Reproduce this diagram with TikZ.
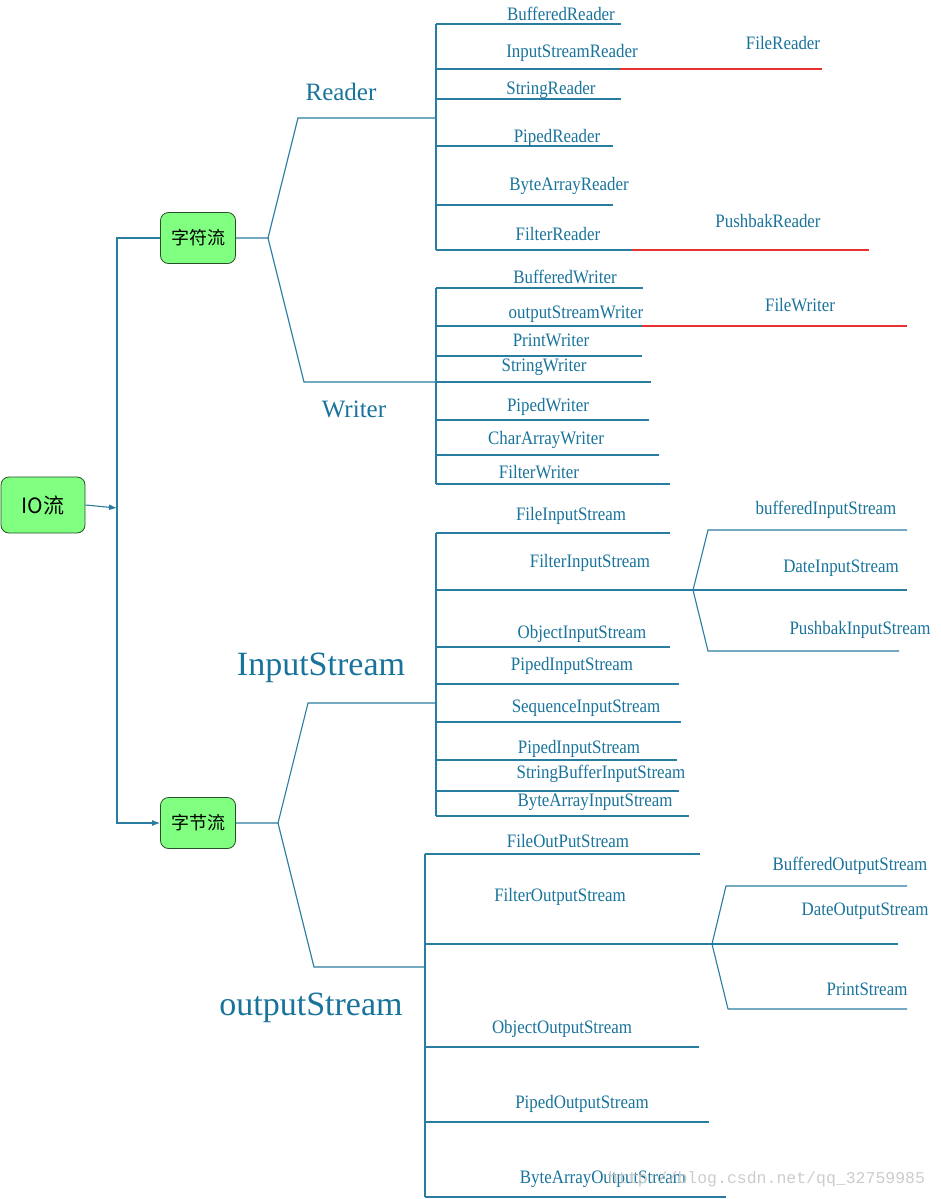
\documentclass[tikz,border=0pt]{standalone}
\usepackage{fontspec}
\usepackage{xcolor}
\usepackage{tikz}
\usetikzlibrary{arrows.meta,positioning}
\setmainfont{Liberation Serif}
\newfontfamily\lblfont[FakeStretch=0.89]{Liberation Serif}
\newfontfamily\cjk{Noto Sans CJK SC}
\newfontfamily\wmfont{Liberation Mono}
\definecolor{lineblue}{RGB}{40,125,160}
\definecolor{textblue}{RGB}{25,115,155}
\definecolor{boxgreen}{RGB}{128,255,128}
\definecolor{boxedge}{RGB}{40,80,40}
\definecolor{redline}{RGB}{232,50,50}
\tikzset{>={Latex[length=8pt,width=6pt]}}
\tikzset{
  ln/.style={draw=lineblue,line width=1.1pt},
  redln/.style={draw=redline,line width=1.1pt},
  leaf/.style={text=textblue,font=\lblfont\fontsize{19}{22}\selectfont,anchor=base,inner sep=0pt},
  head/.style={text=textblue,font=\fontsize{25}{30}\selectfont,anchor=base,inner sep=0pt},
  bighead/.style={text=textblue,font=\fontsize{34}{40}\selectfont,anchor=base,inner sep=0pt},
  box/.style={draw=boxedge,fill=boxgreen,rounded corners=8pt,line width=0.8pt,
    minimum width=75pt,minimum height=51pt,font=\cjk\fontsize{18}{20}\selectfont}
}

\begin{document}
\begin{tikzpicture}[x=1pt,y=-1pt]
  \useasboundingbox (0,0) rectangle (940,1199);

  % Nodes
  \node[box,minimum width=84pt,minimum height=56pt,font=\cjk\fontsize{21}{24}\selectfont] (io) at (43,505) {IO流};
  \node[box] (zf) at (198,238) {字符流};
  \node[box] (zj) at (198,823) {字节流};

  % Trunk
  \coordinate (t1) at (117,238);
  \coordinate (t2) at (117,823);
  \coordinate (tm) at (117,508);
  \draw[ln,->] (io.east) -- (tm);
  \draw[ln,->] (zf.west) -- (t1) -- (t2) -- (zj.west);

  % Reader / Writer
  \coordinate (zfk) at (268,238);
  \coordinate (rd) at (298,118);
  \coordinate (wr) at (304,382);
  \coordinate (rdj) at (436,118);
  \coordinate (wrj) at (436,382);
  \draw[ln] (zf.east) -- (zfk) -- (rd) -- (rdj);
  \draw[ln] (zfk) -- (wr) -- (wrj);
  \node[head] (reader) at (341,100) {Reader};
  \node[head] (writer) at (354,417) {Writer};

  \draw[ln] (436,24) -- (436,250);
  \foreach \y/\xe/\lx/\ly/\txt in {24/621/561/21/BufferedReader, 69/620/572/58/InputStreamReader,
      99/621/551/95/StringReader, 146/613/557/142/PipedReader, 205/613/569/190/ByteArrayReader,
      250/632/558/240/FilterReader}
  {
    \draw[ln] (436,\y) -- (\xe,\y);
    \node[leaf] (r\y) at (\lx,\ly) {\txt};
  }
  \draw[ln] (436,288) -- (436,484);
  \foreach \y/\xe/\lx/\ly/\txt in {288/643/565/283/BufferedWriter, 326/642/576/318/outputStreamWriter,
      356/642/551/346/PrintWriter, 382/651/544/371/StringWriter, 420/649/548/411/PipedWriter,
      455/659/546/444/CharArrayWriter, 484/670/539/478/FilterWriter}
  {
    \draw[ln] (436,\y) -- (\xe,\y);
    \node[leaf] (w\y) at (\lx,\ly) {\txt};
  }

  % Subclasses in red
  \draw[redln] (620,69) -- (822,69);
  \draw[redln] (632,250) -- (869,250);
  \draw[redln] (642,326) -- (907,326);
  \node[leaf] (filereader) at (783,50) {FileReader};
  \node[leaf] (pushbakreader) at (768,227) {PushbakReader};
  \node[leaf] (filewriter) at (800,311) {FileWriter};

  % InputStream / outputStream
  \coordinate (zjk) at (278,823);
  \coordinate (is) at (308,703);
  \coordinate (os) at (314,967);
  \coordinate (isj) at (436,703);
  \coordinate (osj) at (425,967);
  \draw[ln] (zj.east) -- (zjk) -- (is) -- (isj);
  \draw[ln] (zjk) -- (os) -- (osj);
  \node[bighead] (instream) at (321,675) {InputStream};
  \node[bighead] (outstream) at (311,1015) {outputStream};

  \draw[ln] (436,533) -- (436,816);
  \foreach \y/\xe/\lx/\ly/\txt in {533/670/571/520/FileInputStream, 590/693/590/567/FilterInputStream,
      647/670/582/638/ObjectInputStream, 684/679/572/670/PipedInputStream,
      722/681/586/712/SequenceInputStream, 760/677/579/753/PipedInputStream,
      791/679/601/778/StringBufferInputStream, 816/689/595/806/ByteArrayInputStream}
  {
    \draw[ln] (436,\y) -- (\xe,\y);
    \node[leaf] (i\y) at (\lx,\ly) {\txt};
  }
  \coordinate (fis) at (693,590);
  \draw[ln] (fis) -- (708,530) -- (907,530);
  \draw[ln] (fis) -- (907,590);
  \draw[ln] (fis) -- (708,651) -- (899,651);
  \node[leaf] (bis) at (826,514) {bufferedInputStream};
  \node[leaf] (dis) at (841,572) {DateInputStream};
  \node[leaf] (pis) at (860,634) {PushbakInputStream};

  \draw[ln] (425,854) -- (425,1197);
  \foreach \y/\xe/\lx/\ly/\txt in {854/700/568/847/FileOutPutStream, 944/712/560/901/FilterOutputStream,
      1047/699/562/1033/ObjectOutputStream, 1122/709/582/1108/PipedOutputStream,
      1197/726/603/1183/ByteArrayOutputStream}
  {
    \draw[ln] (425,\y) -- (\xe,\y);
    \node[leaf] (o\y) at (\lx,\ly) {\txt};
  }
  \coordinate (fos) at (712,944);
  \draw[ln] (fos) -- (726,886) -- (907,886);
  \draw[ln] (fos) -- (898,944);
  \draw[ln] (fos) -- (728,1009) -- (907,1009);
  \node[leaf] (bos) at (850,870) {BufferedOutputStream};
  \node[leaf] (dos) at (865,915) {DateOutputStream};
  \node[leaf] (prs) at (867,995) {PrintStream};

  % Watermark
  \node[anchor=base west,inner sep=0pt,text=black!20,font=\wmfont\fontsize{16.5}{18}\selectfont] (wm) at (608,1183) {http://blog.csdn.net/qq\_32759985};
\end{tikzpicture}
\end{document}
